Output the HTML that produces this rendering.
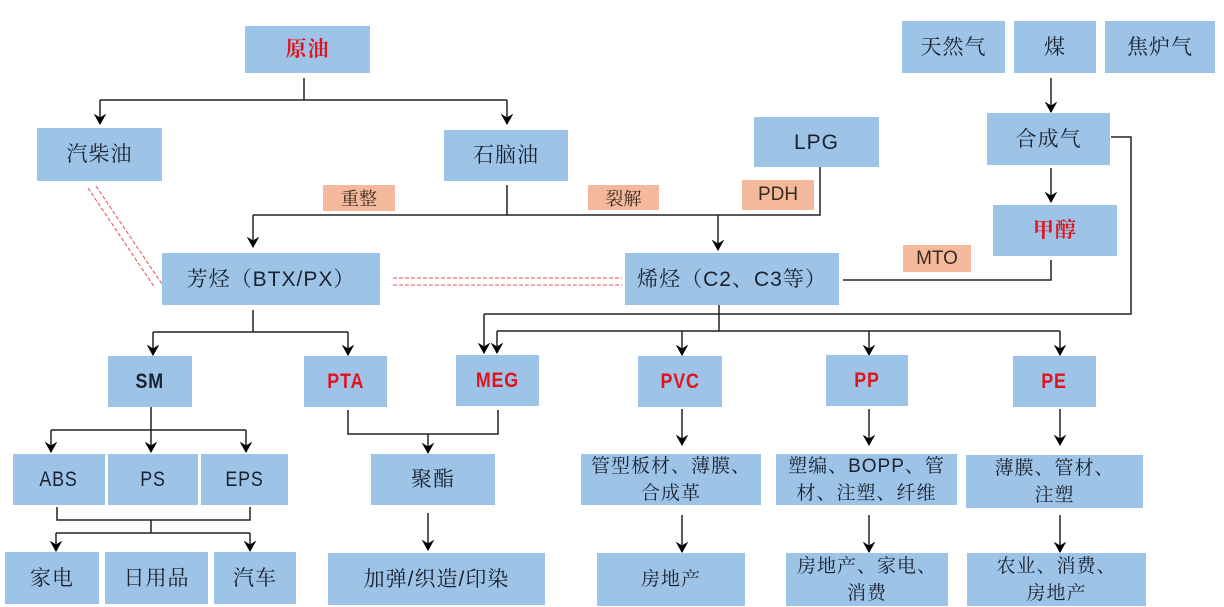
<!DOCTYPE html>
<html><head><meta charset="utf-8"><style>
body{margin:0;width:1224px;height:606px;background:#fff;position:relative;overflow:hidden;font-family:"Liberation Sans","Noto Serif CJK SC",serif;}
.b{position:absolute;background:#9dc3e6;color:#1a2130;display:flex;align-items:center;justify-content:center;text-align:center;font-size:21px;line-height:27px;letter-spacing:1px;}
.o{position:absolute;background:#f4b89c;color:#3a2a20;display:flex;align-items:center;justify-content:center;font-size:18px;}
.r{color:#e0141e;font-weight:bold;}
.l{font-family:"Liberation Sans",sans-serif;}
.lb{font-family:"Liberation Sans",sans-serif;font-weight:bold;display:inline-block;transform:scaleX(0.85);font-size:21px;}
svg{position:absolute;left:0;top:0;}
</style></head><body>
<svg width="1224" height="606">
<defs><marker id="a" markerWidth="12" markerHeight="12" refX="10" refY="6" orient="auto" markerUnits="userSpaceOnUse"><path d="M1,1 L10,6 L1,11 L4,6 Z" fill="#000" stroke="#000" stroke-width="1"/></marker></defs>
<g stroke="#222" stroke-width="1.5" fill="none">
<path d="M304 78V100M100 100H507"/>
<path d="M100 100V124" marker-end="url(#a)"/><path d="M507 100V124" marker-end="url(#a)"/>
<path d="M507 185V215M253 215H820V167"/>
<path d="M253 215V247" marker-end="url(#a)"/><path d="M718 215V250" marker-end="url(#a)"/>
<path d="M1051 78V112" marker-end="url(#a)"/>
<path d="M1051 168V202" marker-end="url(#a)"/>
<path d="M1051 260V280H843"/>
<path d="M1111 137H1131V314H484"/>
<path d="M484 314V353" marker-end="url(#a)"/>
<path d="M719 305V331M497 331H1060"/>
<path d="M497 331V353" marker-end="url(#a)"/><path d="M682 331V355" marker-end="url(#a)"/><path d="M869 331V355" marker-end="url(#a)"/><path d="M1060 331V355" marker-end="url(#a)"/>
<path d="M682 409V445" marker-end="url(#a)"/><path d="M869 409V445" marker-end="url(#a)"/><path d="M1060 409V445" marker-end="url(#a)"/>
<path d="M682 515V552" marker-end="url(#a)"/><path d="M869 515V552" marker-end="url(#a)"/><path d="M1060 515V552" marker-end="url(#a)"/>
<path d="M253 310V332M153 332H348"/>
<path d="M153 332V355" marker-end="url(#a)"/><path d="M348 332V355" marker-end="url(#a)"/>
<path d="M151 407V430M51 430H246"/>
<path d="M51 430V452" marker-end="url(#a)"/><path d="M151 430V452" marker-end="url(#a)"/><path d="M246 430V452" marker-end="url(#a)"/>
<path d="M57 507V520H250V507M151 520V533M56 533H250"/>
<path d="M56 533V551" marker-end="url(#a)"/><path d="M250 533V551" marker-end="url(#a)"/>
<path d="M348 410V434H498V410"/>
<path d="M428 434V453" marker-end="url(#a)"/>
<path d="M428 513V550" marker-end="url(#a)"/>
</g>
<g stroke="#d9534f" stroke-width="1" stroke-dasharray="4,2" fill="none">
<path d="M393 278H622M393 285H622"/>
<path d="M88 188L155 288M96 186L162 284"/>
</g>
</svg>
<div class="b" style="left:245px;top:26px;width:125px;height:47px"><span class="r">原油</span></div>
<div class="b" style="left:37px;top:128px;width:125px;height:53px">汽柴油</div>
<div class="b" style="left:444px;top:130px;width:124px;height:51px">石脑油</div>
<div class="o" style="left:323px;top:185px;width:72px;height:26px">重整</div>
<div class="o" style="left:588px;top:185px;width:71px;height:25px">裂解</div>
<div class="o l" style="left:742px;top:180px;width:72px;height:30px;font-size:19px">PDH</div>
<div class="o l" style="left:903px;top:245px;width:68px;height:27px;font-size:19px">MTO</div>
<div class="b l" style="left:754px;top:117px;width:125px;height:50px">LPG</div>
<div class="b" style="left:902px;top:21px;width:103px;height:52px">天然气</div>
<div class="b" style="left:1014px;top:21px;width:82px;height:52px">煤</div>
<div class="b" style="left:1105px;top:21px;width:110px;height:52px">焦炉气</div>
<div class="b" style="left:987px;top:113px;width:123px;height:52px">合成气</div>
<div class="b" style="left:993px;top:205px;width:124px;height:51px"><span class="r">甲醇</span></div>
<div class="b" style="left:162px;top:253px;width:218px;height:52px">芳烃（BTX/PX）</div>
<div class="b" style="left:625px;top:253px;width:214px;height:52px">烯烃（C2、C3等）</div>
<div class="b" style="left:108px;top:356px;width:84px;height:51px"><span class="lb">SM</span></div>
<div class="b" style="left:304px;top:356px;width:83px;height:51px"><span class="lb r">PTA</span></div>
<div class="b" style="left:456px;top:355px;width:83px;height:51px"><span class="lb r">MEG</span></div>
<div class="b" style="left:638px;top:356px;width:84px;height:51px"><span class="lb r">PVC</span></div>
<div class="b" style="left:826px;top:355px;width:82px;height:51px"><span class="lb r">PP</span></div>
<div class="b" style="left:1013px;top:356px;width:83px;height:51px"><span class="lb r">PE</span></div>
<div class="b" style="left:13px;top:454px;width:92px;height:51px"><span class="lb" style="font-weight:normal">ABS</span></div>
<div class="b" style="left:108px;top:454px;width:90px;height:51px"><span class="lb" style="font-weight:normal">PS</span></div>
<div class="b" style="left:201px;top:454px;width:87px;height:51px"><span class="lb" style="font-weight:normal">EPS</span></div>
<div class="b" style="left:371px;top:454px;width:124px;height:51px">聚酯</div>
<div class="b" style="left:581px;top:454px;width:180px;height:51px;font-size:19px">管型板材、薄膜、<br>合成革</div>
<div class="b" style="left:776px;top:454px;width:181px;height:51px;font-size:19px">塑编、BOPP、管<br>材、注塑、纤维</div>
<div class="b" style="left:966px;top:455px;width:177px;height:53px;font-size:19px">薄膜、管材、<br>注塑</div>
<div class="b" style="left:5px;top:552px;width:94px;height:52px">家电</div>
<div class="b" style="left:105px;top:552px;width:103px;height:52px">日用品</div>
<div class="b" style="left:214px;top:552px;width:82px;height:52px">汽车</div>
<div class="b" style="left:328px;top:553px;width:217px;height:52px">加弹/织造/印染</div>
<div class="b" style="left:597px;top:553px;width:148px;height:53px;font-size:19px">房地产</div>
<div class="b" style="left:786px;top:553px;width:162px;height:53px;font-size:19px">房地产、家电、<br>消费</div>
<div class="b" style="left:967px;top:553px;width:179px;height:53px;font-size:19px">农业、消费、<br>房地产</div>
</body></html>
